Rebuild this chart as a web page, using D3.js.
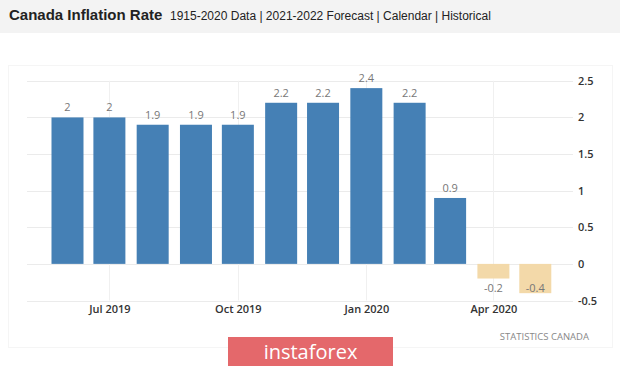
<!DOCTYPE html>
<html><head><meta charset="utf-8">
<script src="https://cdn.jsdelivr.net/npm/d3@7"></script>
<style>
html,body{margin:0;padding:0;background:#fff;}
svg{display:block;}
</style></head>
<body><svg id="c" width="620" height="366"></svg>
<script>
const months = ["2019-06","2019-07","2019-08","2019-09","2019-10","2019-11","2019-12","2020-01","2020-02","2020-03","2020-04","2020-05"];
const values = [2, 2, 1.9, 1.9, 1.9, 2.2, 2.2, 2.4, 2.2, 0.9, -0.2, -0.4];
const xTickDates = ["2019-07","2019-10","2020-01","2020-04"];
const xTickLabels = ["Jul 2019","Oct 2019","Jan 2020","Apr 2020"];
const yTicks = [-0.5, 0, 0.5, 1, 1.5, 2, 2.5];
const titleText = "Canada Inflation Rate";
const subtitleText = "1915-2020 Data | 2021-2022 Forecast | Calendar | Historical";
const sourceText = "STATISTICS CANADA";
const watermarkText = "instaforex";

const parse = d3.timeParse("%Y-%m");
const svg = d3.select("#c");

// header band
svg.append("rect").attr("x",0).attr("y",0).attr("width",620).attr("height",33).attr("fill","#f3f3f3");
svg.append("text").attr("x",9).attr("y",20).attr("font-family","Liberation Sans, Arial, sans-serif")
  .attr("font-weight","bold").attr("font-size",15).attr("fill","#222").text(titleText);
svg.append("text").attr("x",170).attr("y",20).attr("font-family","Liberation Sans, Arial, sans-serif")
  .attr("font-size",12).attr("fill","#222").text(subtitleText);

// faint card border
svg.append("rect").attr("x",8.5).attr("y",65.5).attr("width",604).attr("height",282).attr("fill","none").attr("stroke","#f5f5f5");

const x = d3.scaleTime().domain([new Date(2019,4,3), new Date(2020,4,28)]).range([27, 573]);
const y = d3.scaleLinear().domain([-0.5, 2.5]).range([300.5, 80.8]);

const g = svg.append("g");
// horizontal grid
g.selectAll("line.hg").data(yTicks).join("line").attr("class","hg")
  .attr("x1",27).attr("x2",573).attr("y1",d=>Math.round(y(d))+0.5).attr("y2",d=>Math.round(y(d))+0.5)
  .attr("stroke","#ebebeb");
// vertical grid
g.selectAll("line.vg").data(xTickDates).join("line").attr("class","vg")
  .attr("x1",d=>Math.round(x(parse(d)))+0.5).attr("x2",d=>Math.round(x(parse(d)))+0.5)
  .attr("y1",80.8).attr("y2",300.5).attr("stroke","#f0f0f0");

const bw = 32;
const data = months.map((m,i)=>({date:parse(m), v:values[i]}));
g.selectAll("rect.bar").data(data).join("rect").attr("class","bar")
  .attr("x",d=>x(d.date)-bw/2).attr("width",bw)
  .attr("y",d=>y(Math.max(0,d.v))).attr("height",d=>Math.abs(y(d.v)-y(0)))
  .attr("fill",d=>d.v>=0?"#4580b5":"#f3d9a9");

g.selectAll("text.lbl").data(data).join("text").attr("class","lbl")
  .attr("x",d=>x(d.date)).attr("text-anchor","middle")
  .attr("y",d=>d.v>=0 ? y(d.v)-6 : Math.min(y(d.v)+15, y(-0.5)-9))
  .attr("font-family","Open Sans, sans-serif").attr("font-size",11).attr("fill","#777")
  .text(d=>String(d.v));

// y axis labels (right)
const yAxis = d3.axisRight(y).tickValues(yTicks).tickSize(0).tickPadding(0).tickFormat(d=>String(d));
const ya = svg.append("g").attr("transform","translate(578,0)").call(yAxis);
ya.select(".domain").remove();
ya.selectAll("text").attr("font-family","Open Sans, sans-serif").attr("font-size",11).attr("font-weight",600).attr("fill","#333");

// x axis labels
const xAxis = d3.axisBottom(x).tickValues(xTickDates.map(parse)).tickSize(0).tickPadding(0)
  .tickFormat((d,i)=>xTickLabels[i]);
const xa = svg.append("g").attr("transform","translate(0,301)").call(xAxis);
xa.select(".domain").remove();
xa.selectAll("text").attr("dy","1.05em").attr("font-family","Open Sans, sans-serif").attr("font-size",11).attr("font-weight",600).attr("fill","#333");

// source
svg.append("text").attr("x",589).attr("y",340).attr("text-anchor","end")
  .attr("font-family","Open Sans, sans-serif").attr("font-size",9.5).attr("fill","#888").text(sourceText);

// watermark
svg.append("rect").attr("x",228).attr("y",337).attr("width",165).attr("height",29).attr("fill","#e4686b");
svg.append("text").attr("x",310.5).attr("y",359).attr("text-anchor","middle")
  .attr("font-family","Open Sans, sans-serif").attr("font-size",20).attr("fill","#fff").text(watermarkText);
</script></body></html>
